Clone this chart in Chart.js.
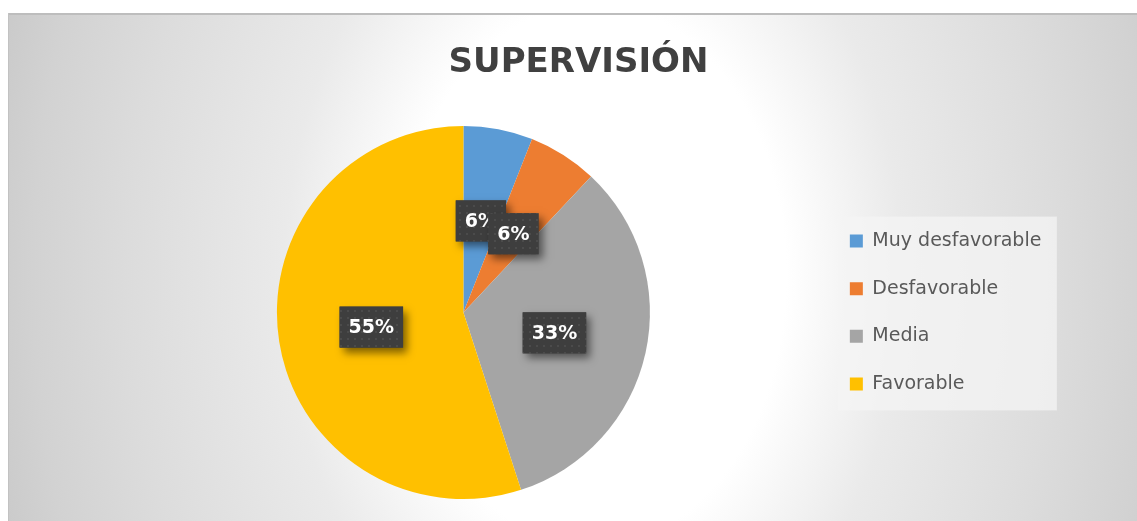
<!DOCTYPE html>
<html>
<head>
<meta charset="utf-8">
<script src="https://cdn.jsdelivr.net/npm/chart.js@4/dist/chart.umd.min.js"></script>
<style>
  html, body { margin: 0; padding: 0; background: #fff; overflow: hidden; }
  #wrap { position: absolute; left: 8px; top: 13px; width: 1129px; height: 508px; }
</style>
</head>
<body>
<div id="wrap"><canvas id="chart"></canvas></div>
<script>
const labels = ["Muy desfavorable", "Desfavorable", "Media", "Favorable"];
const values = [6, 6, 33, 55];
const colors = ["#5B9BD5", "#ED7D31", "#A5A5A5", "#FFC000"];
const chartTitle = "SUPERVISIÓN";

const FONT = "'DejaVu Sans', sans-serif";

// dotted fill used behind the percentage labels
const dots = document.createElement("canvas");
dots.width = 7;
dots.height = 7;
const dctx = dots.getContext("2d");
dctx.fillStyle = "#3e3e3e";
dctx.fillRect(0, 0, 7, 7);
dctx.fillStyle = "#4b4b4b";
dctx.fillRect(3, 3, 2, 2);

const background = {
    id: "background",
    beforeDraw(chart) {
        const { ctx, width, height } = chart;
        const cx = 585, cy = 262, sy = 1.4, R = 644;
        ctx.save();
        ctx.fillStyle = "#c6c6c6";
        ctx.fillRect(0, 0, width, height);
        ctx.translate(cx, cy);
        ctx.scale(1, sy);
        const g = ctx.createRadialGradient(0, 0, 0, 0, 0, R);
        g.addColorStop(0, "#ffffff");
        g.addColorStop(0.3, "#ffffff");
        g.addColorStop(0.48, "#eaeaea");
        g.addColorStop(0.72, "#dcdcdc");
        g.addColorStop(0.87, "#d2d2d2");
        g.addColorStop(1, "#c6c6c6");
        ctx.fillStyle = g;
        ctx.fillRect(-cx, -cy / sy, width, height / sy);
        ctx.restore();

        ctx.save();
        ctx.fillStyle = "#bdbdbd";
        ctx.fillRect(0, 0, width, 2);
        ctx.fillStyle = "#c2c2c2";
        ctx.fillRect(0, 0, 1, height);

        // legend panel
        const boxes = chart.legend.legendHitBoxes;
        if (boxes && boxes.length) {
            const first = boxes[0];
            const last = boxes[boxes.length - 1];
            const x = first.left - 12;
            const y = first.top - 15;
            ctx.fillStyle = "rgba(244,244,244,0.75)";
            ctx.fillRect(x, y, 219, last.top + last.height - y + 17);
        }
        ctx.restore();
    },
};

const valueLabels = {
    id: "valueLabels",
    afterDatasetsDraw(chart) {
        const { ctx } = chart;
        const meta = chart.getDatasetMeta(0);
        const total = values.reduce((a, b) => a + b, 0);
        const pattern = ctx.createPattern(dots, "repeat");
        ctx.save();
        ctx.font = "bold 19px " + FONT;
        ctx.textAlign = "center";
        ctx.textBaseline = "middle";
        meta.data.forEach((arc, i) => {
            const text = Math.round((values[i] / total) * 100) + "%";
            const p = arc.tooltipPosition();
            const w = ctx.measureText(text).width + 18;
            const h = 41;
            const x = p.x - w / 2;
            const y = p.y - h / 2;
            ctx.shadowColor = "rgba(0,0,0,0.5)";
            ctx.shadowBlur = 8;
            ctx.shadowOffsetX = 4;
            ctx.shadowOffsetY = 5;
            ctx.fillStyle = "#3e3e3e";
            ctx.fillRect(x, y, w, h);
            ctx.shadowColor = "transparent";
            ctx.fillStyle = pattern;
            ctx.fillRect(x, y, w, h);
            ctx.fillStyle = "#ffffff";
            ctx.fillText(text, p.x, p.y + 1);
        });
        ctx.restore();
    },
};

const ctx = document.getElementById("chart").getContext("2d");

new Chart(ctx, {
    type: "pie",
    data: {
        labels: labels,
        datasets: [
            {
                data: values,
                backgroundColor: colors,
                borderWidth: 0,
                hoverOffset: 0,
            },
        ],
    },
    options: {
        responsive: true,
        maintainAspectRatio: false,
        animation: false,
        layout: {
            padding: { left: 97.6, right: 85.6, top: 0, bottom: 22 },
        },
        plugins: {
            title: {
                display: true,
                text: chartTitle,
                color: "#404040",
                font: { family: FONT, size: 34, weight: "bold" },
                padding: { top: 29.6, bottom: 42.6 },
            },
            legend: {
                position: "right",
                fullSize: false,
                labels: {
                    boxWidth: 13,
                    boxHeight: 13,
                    padding: 28.6,
                    color: "#595959",
                    font: { family: FONT, size: 19 },
                },
            },
            tooltip: { enabled: false },
        },
    },
    plugins: [background, valueLabels],
});
</script>
</body>
</html>
